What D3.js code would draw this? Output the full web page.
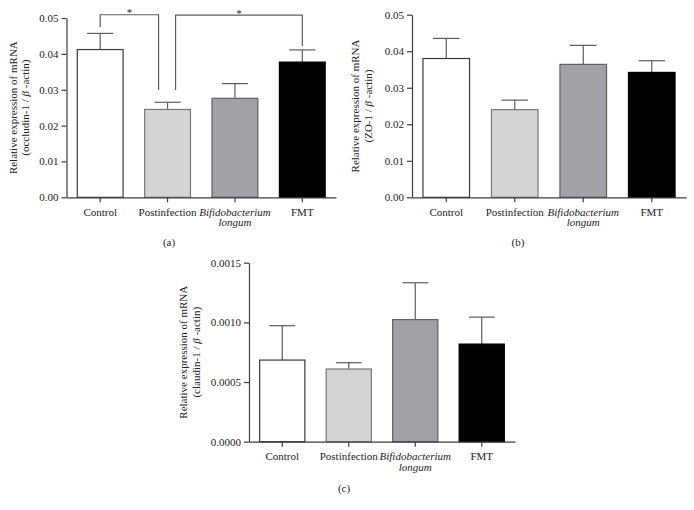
<!DOCTYPE html>
<html>
<head>
<meta charset="utf-8">
<script src="https://cdn.jsdelivr.net/npm/d3@7"></script>
<style>
  html, body { margin: 0; padding: 0; background: #fff; }
  svg { display: block; }
  text { font-family: "Liberation Serif", "Times New Roman", serif; fill: #222; }
</style>
</head>
<body>
<svg id="chart" width="694" height="510"></svg>
<script>
// ---------- data ----------
const categories = ["Control", "Postinfection", "Bifidobacterium longum", "FMT"];

const occludinMean = [0.0412, 0.0245, 0.0276, 0.0377];
const occludinErr  = [0.0045, 0.0020, 0.0041, 0.0034];

const zo1Mean = [0.0380, 0.0240, 0.0364, 0.0342];
const zo1Err  = [0.0055, 0.0026, 0.0052, 0.0032];

const claudinMean = [0.000684, 0.000609, 0.001023, 0.000818];
const claudinErr  = [0.000288, 0.000053, 0.000309, 0.000226];

const ticksAB = [0, 0.01, 0.02, 0.03, 0.04, 0.05];
const ticksC  = [0, 0.0005, 0.0010, 0.0015];

const labelA = "occludin-1";
const labelB = "ZO-1";
const labelC = "claudin-1";

// significance brackets for panel (a): [from index, to index], top level, end levels
const sigPairs  = [[0, 1], [1, 3]];
const sigTop    = [0.0509, 0.0508];
const sigEnds   = [[0.0475, 0.0299], [0.0299, 0.0422]];
const sigLabels = ["*", "*"];

// ---------- styles ----------
const barFill   = ["#ffffff", "#d4d4d4", "#a2a1a7", "#000000"];
const barStroke = ["#3a3a3a", "#777777", "#606060", "#000000"];
const errColor  = "#5c5c5c";
const axisColor = "#3c3c3c";
const fontSize  = 11;

const svg = d3.select("#chart");

function panel(cfg) {
  const g = svg.append("g");
  const x = d3.scaleBand().domain(categories).range([cfg.x0, cfg.x1])
    .paddingInner(0.32).paddingOuter(0.16);
  const y = d3.scaleLinear().domain([0, cfg.ymax]).range([cfg.yBottom, cfg.yTop]);
  const data = categories.map((c, i) => ({ c, i, m: cfg.mean[i], e: cfg.err[i] }));

  // error bars (upward only)
  const capW = x.bandwidth() * 0.57;
  const eb = g.append("g").attr("stroke", errColor).attr("stroke-width", 1.2).attr("fill", "none");
  data.forEach(d => {
    const cx = x(d.c) + x.bandwidth() / 2;
    eb.append("line").attr("x1", cx).attr("x2", cx).attr("y1", y(d.m)).attr("y2", y(d.m + d.e));
    eb.append("line").attr("x1", cx - capW / 2).attr("x2", cx + capW / 2)
      .attr("y1", y(d.m + d.e)).attr("y2", y(d.m + d.e));
  });

  // bars
  g.append("g").selectAll("rect").data(data).join("rect")
    .attr("x", d => x(d.c)).attr("width", x.bandwidth())
    .attr("y", d => y(d.m)).attr("height", d => y(0) - y(d.m))
    .attr("fill", d => barFill[d.i]).attr("stroke", d => barStroke[d.i])
    .attr("stroke-width", 1.2);

  // y axis
  const ya = g.append("g").attr("transform", `translate(${cfg.x0},0)`)
    .call(d3.axisLeft(y).tickValues(cfg.ticks).tickFormat(d3.format(cfg.fmt))
      .tickSize(5).tickSizeOuter(0).tickPadding(3));
  ya.selectAll("path, line").attr("stroke", axisColor).attr("stroke-width", 1.2);
  ya.selectAll("text").attr("font-size", fontSize).attr("font-family", null).attr("fill", "#222");

  // x axis
  const xa = g.append("g").attr("transform", `translate(0,${cfg.yBottom})`)
    .call(d3.axisBottom(x).tickSize(5).tickSizeOuter(0).tickFormat(""));
  xa.selectAll("path, line").attr("stroke", axisColor).attr("stroke-width", 1.2);
  xa.selectAll("text").remove();

  // category labels
  categories.forEach(c => {
    const cx = x(c) + x.bandwidth() / 2;
    const t = g.append("text").attr("text-anchor", "middle").attr("font-size", fontSize)
      .attr("x", cx).attr("y", cfg.yBottom + 18.5);
    if (c.startsWith("Bifidobacterium")) {
      const parts = c.split(" ");
      t.attr("font-style", "italic").text(parts[0]);
      g.append("text").attr("text-anchor", "middle").attr("font-size", fontSize)
        .attr("font-style", "italic").attr("x", cx).attr("y", cfg.yBottom + 29)
        .text(parts[1]);
    } else {
      t.text(c);
    }
  });

  // y label
  const cy = (cfg.yBottom + cfg.yTop) / 2;
  g.append("text").attr("transform", `translate(${cfg.lab1},${cy}) rotate(-90)`)
    .attr("text-anchor", "middle").attr("dy", "0.35em").attr("font-size", fontSize)
    .text("Relative expression of mRNA");
  const t2 = g.append("text").attr("transform", `translate(${cfg.lab2},${cy}) rotate(-90)`)
    .attr("text-anchor", "middle").attr("dy", "0.35em").attr("font-size", fontSize);
  t2.append("tspan").text(`(${cfg.label} / `);
  t2.append("tspan").attr("font-style", "italic").text("β");
  t2.append("tspan").text(" -actin)");

  // panel letter
  g.append("text").attr("text-anchor", "middle").attr("font-size", fontSize)
    .attr("x", cfg.letterX).attr("y", cfg.letterY).text(cfg.letter);

  return { g, x, y };
}

const pa = panel({ x0: 66.5, x1: 336, yTop: 18, yBottom: 197.3, ymax: 0.05,
  mean: occludinMean, err: occludinErr, ticks: ticksAB, fmt: ".2f",
  label: labelA, lab1: 13, lab2: 25, letter: "(a)", letterX: 169, letterY: 246 });

panel({ x0: 412, x1: 686, yTop: 14.7, yBottom: 197.3, ymax: 0.05,
  mean: zo1Mean, err: zo1Err, ticks: ticksAB, fmt: ".2f",
  label: labelB, lab1: 355, lab2: 368, letter: "(b)", letterX: 518, letterY: 246 });

panel({ x0: 249, x1: 515, yTop: 262.7, yBottom: 441.7, ymax: 0.0015,
  mean: claudinMean, err: claudinErr, ticks: ticksC, fmt: ".4f",
  label: labelC, lab1: 183, lab2: 196.5, letter: "(c)", letterX: 344, letterY: 492 });

// significance brackets on panel (a)
const offsets = [[0, -9], [8, 0]];
sigPairs.forEach((p, k) => {
  const xa = pa.x(categories[p[0]]) + pa.x.bandwidth() / 2 + offsets[k][0];
  const xb = pa.x(categories[p[1]]) + pa.x.bandwidth() / 2 + offsets[k][1];
  const yt = pa.y(sigTop[k]);
  pa.g.append("path")
    .attr("d", `M${xa},${pa.y(sigEnds[k][0])}V${yt}H${xb}V${pa.y(sigEnds[k][1])}`)
    .attr("fill", "none").attr("stroke", errColor).attr("stroke-width", 1.2);
  pa.g.append("text").attr("text-anchor", "middle").attr("font-size", fontSize)
    .attr("x", (xa + xb) / 2).attr("y", yt + 1.5).text(sigLabels[k]);
});
</script>
</body>
</html>
